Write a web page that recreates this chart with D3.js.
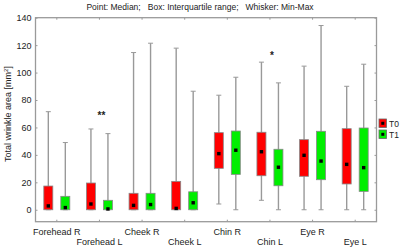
<!DOCTYPE html>
<html>
<head>
<meta charset="utf-8">
<script src="https://cdn.jsdelivr.net/npm/d3@7"></script>
<style>
  body { margin: 0; background: #fff; }
  text { font-family: "Liberation Sans", Arial, sans-serif; fill: #222; }
</style>
</head>
<body>
<script>
// Data
var categories = ["Forehead R", "Forehead L", "Cheek R", "Cheek L", "Chin R", "Chin L", "Eye R", "Eye L"];
var groups = ["T0", "T1"];

var t0Min = [0, 0, 0, 0, 4.2, 6.9, 0, 0];
var t0Q1 = [0, 0, 0, 0, 30.2, 24.8, 24.4, 18.8];
var t0Median = [2.8, 4.2, 3.2, 1, 40.9, 42.3, 39.7, 33.1];
var t0Q3 = [17.3, 19.5, 12, 20.7, 56.2, 56.5, 51.1, 59.1];
var t0Max = [71.5, 58.9, 114.6, 117.8, 83.5, 107.6, 104.7, 90];

var t1Min = [0, 0, 0, 0, 0, 0, 0, 0];
var t1Q1 = [0, 0, 0, 0, 25.8, 17.5, 21.9, 13.4];
var t1Median = [1.6, 0.6, 3.8, 5.1, 43.4, 31, 35.5, 30.7];
var t1Q3 = [9.8, 6.9, 12, 13.1, 57.4, 44.1, 57.2, 59.6];
var t1Max = [49, 55.5, 121.4, 86.4, 96.6, 92.5, 134.3, 106.1];

var yTicks = [0, 20, 40, 60, 80, 100, 120, 140];
var marks = [{cat: "Forehead L", label: "**", value: 70.5}, {cat: "Chin L", label: "*", value: 114.5}];

var w = 400;
var h = 247;
var margin = {top: 17.7, right: 23.5, bottom: 25.3, left: 35.5};

var svg = d3.select("body")
  .append("svg")
  .attr("width", w)
  .attr("height", h);

var x = d3.scaleBand()
  .domain(categories)
  .range([margin.left, w - margin.right]);

// T0 left of the category centre, T1 right of it
var offset = d3.scalePoint()
  .domain(groups)
  .range([-8.5, 8.5]);

var y = d3.scaleLinear()
  .domain([-8.7, 140])
  .range([h - margin.bottom, margin.top]);

var colors = {T0: "#ff0000", T1: "#00ee00"};
var frame = "#9a9a9a";

// title
svg.append("text")
  .attr("x", 200)
  .attr("y", 10)
  .attr("text-anchor", "middle")
  .style("font-size", "8.5px")
  .style("white-space", "pre")
  .text("Point: Median;   Box: Interquartile range;   Whisker: Min-Max");

// axes
var yAxis = svg.append("g")
  .attr("transform", "translate(" + margin.left + ",0)")
  .call(d3.axisLeft(y).tickValues(yTicks).tickSize(-2).tickPadding(4));

var yAxisR = svg.append("g")
  .attr("transform", "translate(" + (w - margin.right) + ",0)")
  .call(d3.axisRight(y).tickValues(yTicks).tickSize(-2).tickFormat(""));

var xAxis = svg.append("g")
  .attr("transform", "translate(0," + (h - margin.bottom) + ")")
  .call(d3.axisBottom(x).tickSize(-2).tickPadding(7));

var xAxisT = svg.append("g")
  .attr("transform", "translate(0," + margin.top + ")")
  .call(d3.axisTop(x).tickSize(-2).tickFormat(""));

[yAxis, yAxisR, xAxis, xAxisT].forEach(function(g) {
  g.selectAll(".tick line").attr("stroke", frame);
});

yAxis.selectAll("text").style("font-size", "9px").attr("fill", "#222");
xAxis.selectAll("text")
  .style("font-size", "9px")
  .attr("fill", "#222")
  .attr("dy", function(d, i) {
    return i % 2 === 0 ? "0.71em" : "1.82em";
  });
svg.selectAll(".domain").remove();

svg.append("rect")
  .attr("x", margin.left)
  .attr("y", margin.top)
  .attr("width", w - margin.left - margin.right)
  .attr("height", h - margin.top - margin.bottom)
  .attr("fill", "none")
  .attr("stroke", frame)
  .attr("stroke-width", 1.3);

// y title
svg.append("text")
  .attr("transform", "translate(11," + 114 + ") rotate(-90)")
  .attr("text-anchor", "middle")
  .style("font-size", "9px")
  .html("Total wrinkle area [mm<tspan dy='-3' style='font-size:6px'>2</tspan><tspan dy='3'>]</tspan>");

// boxes
var rows = [];
categories.forEach(function(c, i) {
  rows.push({cat: c, g: "T0", min: t0Min[i], q1: t0Q1[i], med: t0Median[i], q3: t0Q3[i], max: t0Max[i]});
  rows.push({cat: c, g: "T1", min: t1Min[i], q1: t1Q1[i], med: t1Median[i], q3: t1Q3[i], max: t1Max[i]});
});

var boxes = svg.selectAll(".box")
  .data(rows)
  .enter()
  .append("g")
  .attr("class", "box")
  .attr("transform", function(d) {
    return "translate(" + (x(d.cat) + x.bandwidth() / 2 + offset(d.g)) + ",0)";
  });

var bw = 9;
var cap = 5;

boxes.append("line")
  .attr("y1", function(d) { return y(d.max); })
  .attr("y2", function(d) { return y(d.min); })
  .attr("stroke", "#999")
  .attr("stroke-width", 1.4);

boxes.selectAll(".cap")
  .data(function(d) { return [d.max, d.min]; })
  .enter()
  .append("line")
  .attr("class", "cap")
  .attr("x1", -cap / 2)
  .attr("x2", cap / 2)
  .attr("y1", function(v) { return y(v); })
  .attr("y2", function(v) { return y(v); })
  .attr("stroke", "#999")
  .attr("stroke-width", 1);

boxes.append("rect")
  .attr("x", -bw / 2)
  .attr("width", bw)
  .attr("y", function(d) { return y(d.q3); })
  .attr("height", function(d) { return Math.max(1, y(d.q1) - y(d.q3)); })
  .attr("fill", function(d) { return colors[d.g]; })
  .attr("stroke", "#888")
  .attr("stroke-width", 0.8);

boxes.append("rect")
  .attr("x", -1.7)
  .attr("width", 3.4)
  .attr("y", function(d) { return y(d.med) - 1.7; })
  .attr("height", 3.4)
  .attr("fill", "#000");

// significance marks
svg.selectAll(".sig")
  .data(marks)
  .enter()
  .append("text")
  .attr("class", "sig")
  .attr("x", function(d) { return x(d.cat) + x.bandwidth() / 2 + 2; })
  .attr("y", function(d) { return y(d.value) + 6; })
  .attr("text-anchor", "middle")
  .style("font-size", "10px")
  .style("font-weight", "bold")
  .text(function(d) { return d.label; });

// legend
var legend = svg.selectAll(".legend")
  .data(groups)
  .enter()
  .append("g")
  .attr("class", "legend")
  .attr("transform", function(d, i) {
    return "translate(379," + (119 + i * 11) + ")";
  });

legend.append("rect")
  .attr("width", 7.5)
  .attr("height", 8.5)
  .attr("fill", function(d) { return colors[d]; })
  .attr("stroke", "#666")
  .attr("stroke-width", 0.8);

legend.append("rect")
  .attr("x", 2.3)
  .attr("y", 2.8)
  .attr("width", 3)
  .attr("height", 3)
  .attr("fill", "#000");

legend.append("text")
  .attr("x", 10)
  .attr("y", 7.5)
  .style("font-size", "8.5px")
  .text(function(d) { return d; });
</script>
</body>
</html>
